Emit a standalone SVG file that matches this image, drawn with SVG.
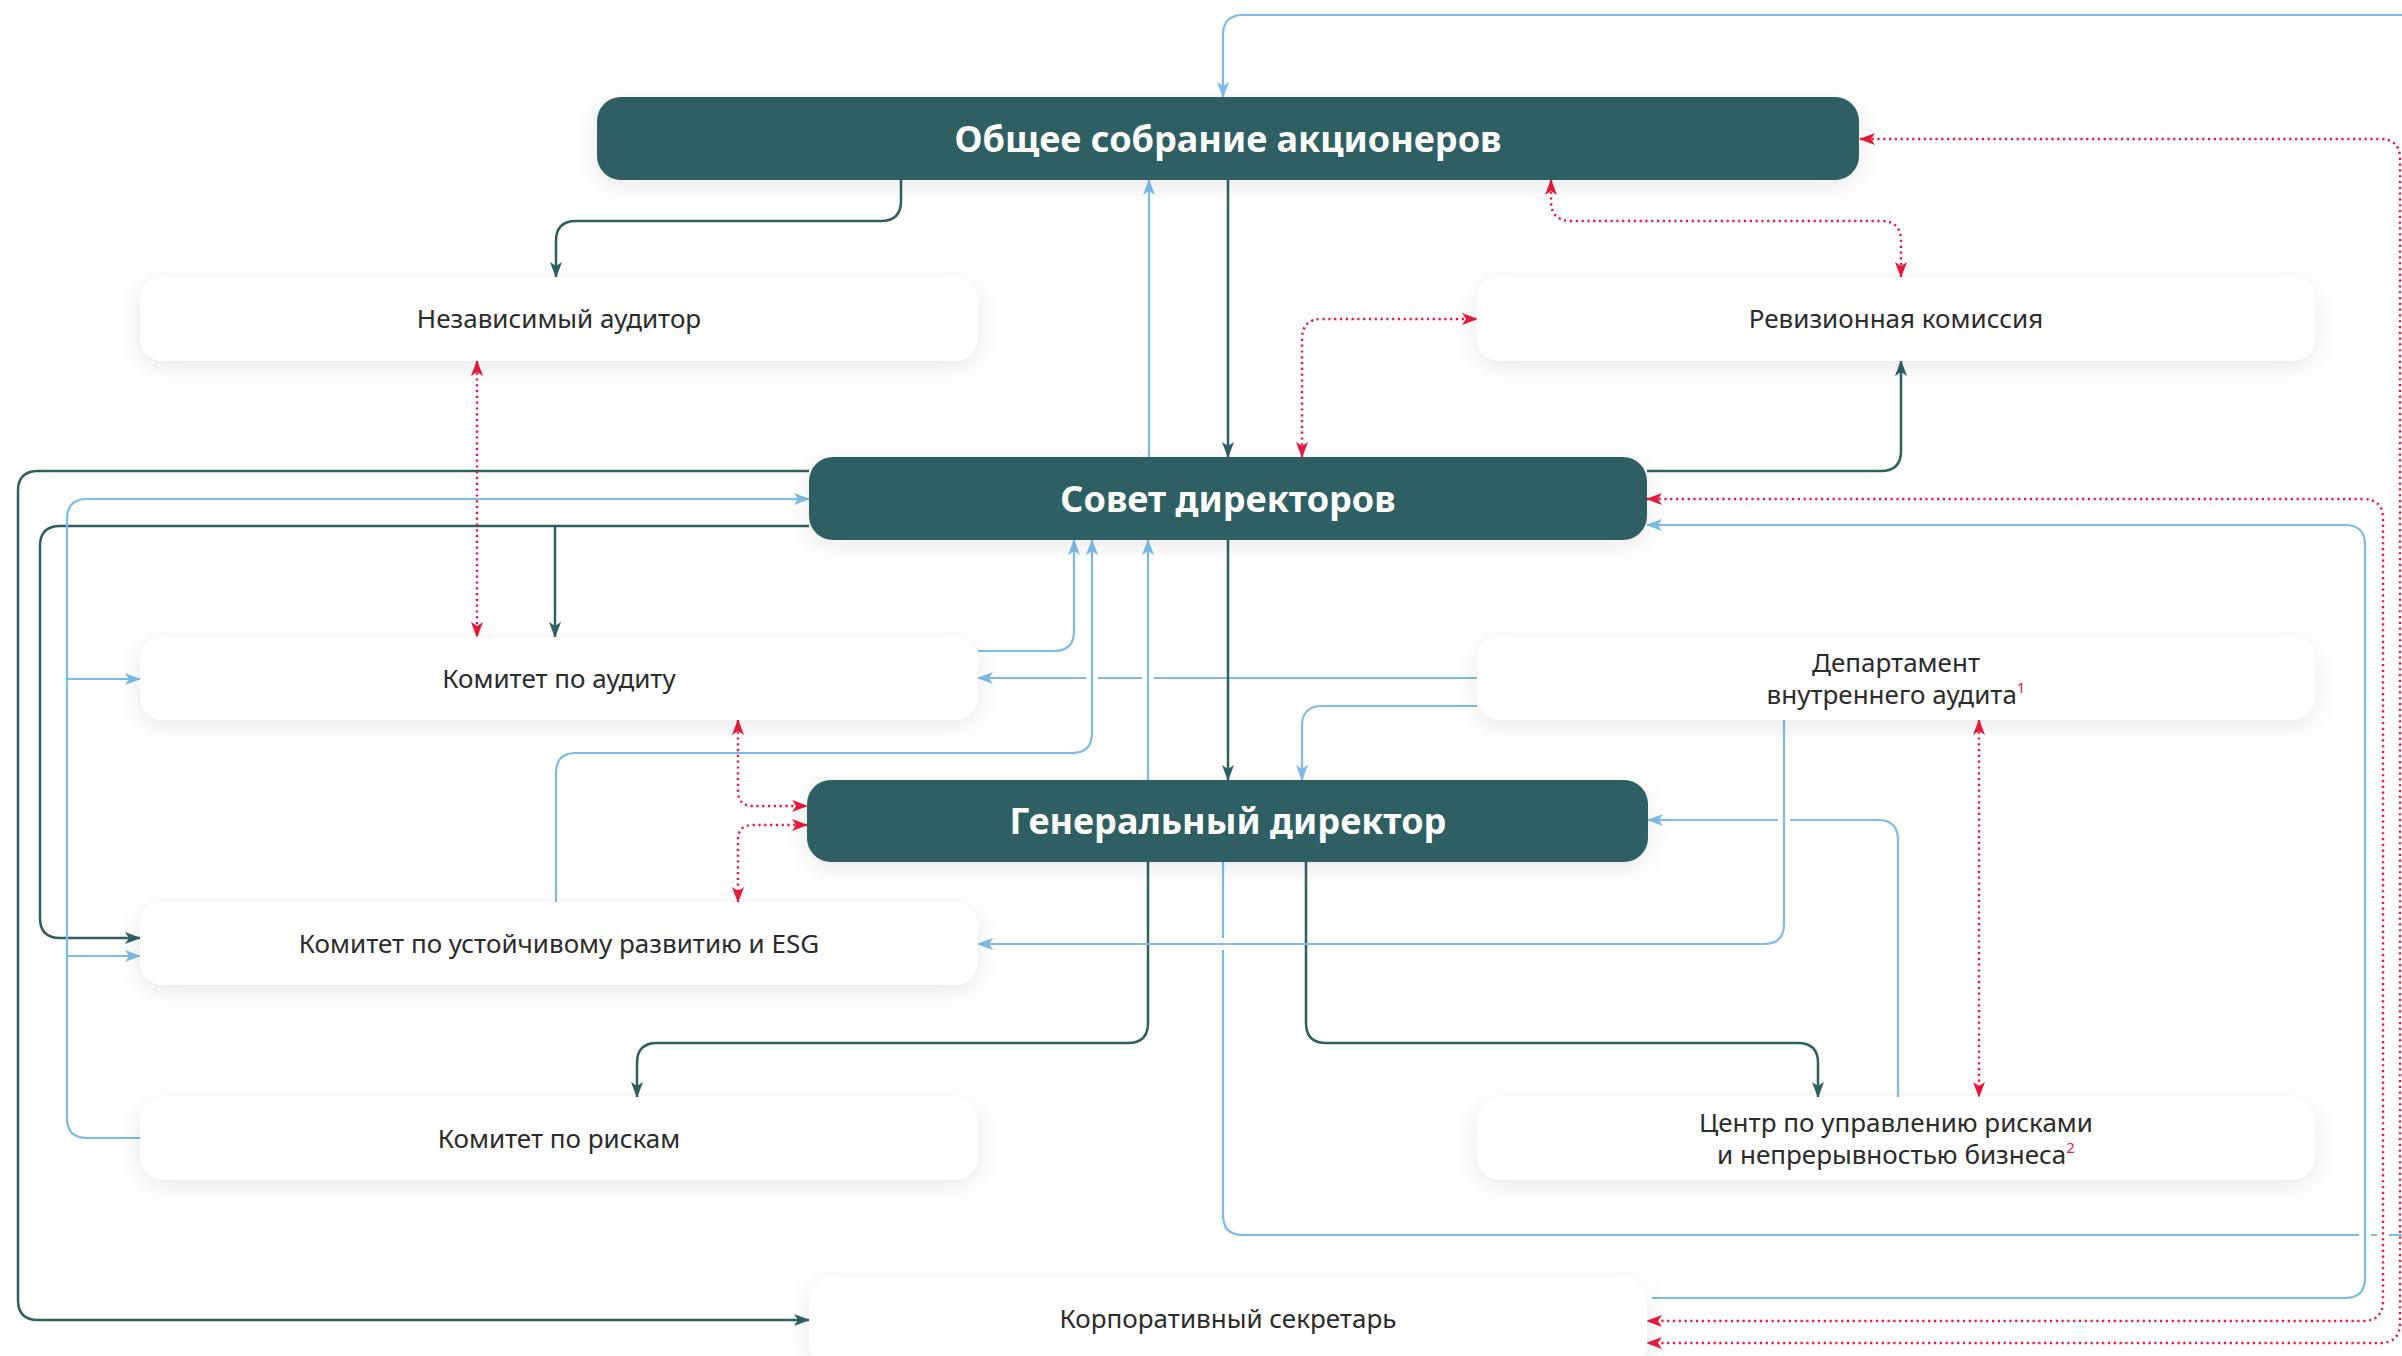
<svg xmlns="http://www.w3.org/2000/svg" width="2402" height="1356" viewBox="0 0 2402 1356">
<style>
.dk{fill:#2e6063}
.wt{fill:#ffffff}
.hd{font-family:"Noto Sans","Open Sans","Liberation Sans",sans-serif;font-weight:700;font-size:36px;fill:#ffffff;text-anchor:middle}
.tx{font-family:"Noto Sans","Open Sans","Liberation Sans",sans-serif;font-weight:400;font-size:26px;fill:#2b2b2b;text-anchor:middle}
.sup{font-size:15px;fill:#e8193c}
.cd{fill:none;stroke:#2e6063;stroke-width:2.5}
.cb{fill:none;stroke:#7dbbe8;stroke-width:2.2}
.cr{fill:none;stroke:#e8193c;stroke-width:2.4;stroke-dasharray:2.2 3.6}
.md{marker-end:url(#ad)}
.mb{marker-end:url(#ab)}
.mr{marker-start:url(#ar);marker-end:url(#ar)}
.gap{fill:#ffffff}
</style>
<defs>
<filter id="sh" x="-10%" y="-50%" width="120%" height="200%">
<feDropShadow dx="0" dy="6" stdDeviation="11" flood-color="#000000" flood-opacity="0.09"/>
</filter>
<marker id="ad" viewBox="0 0 16 12" refX="15" refY="6" markerWidth="16" markerHeight="12" markerUnits="userSpaceOnUse" orient="auto-start-reverse"><path d="M0,0 L16,6 L0,12 L4,6 Z" fill="#2e6063"/></marker>
<marker id="ab" viewBox="0 0 16 12" refX="15" refY="6" markerWidth="16" markerHeight="12" markerUnits="userSpaceOnUse" orient="auto-start-reverse"><path d="M0,0 L16,6 L0,12 L4,6 Z" fill="#7dbbe8"/></marker>
<marker id="ar" viewBox="0 0 16 12" refX="15" refY="6" markerWidth="16" markerHeight="12" markerUnits="userSpaceOnUse" orient="auto-start-reverse"><path d="M0,0 L16,6 L0,12 L4,6 Z" fill="#e8193c"/></marker>
</defs>
<rect x="0" y="0" width="2402" height="1356" fill="#ffffff"/>

<g id="connectors">
<!-- lines that get interrupted (drawn first) -->
<path class="cb" d="M1477,678 H978" marker-end="url(#ab)"/>
<path class="cb" d="M1898,1097 V840 Q1898,820 1878,820 H1648" marker-end="url(#ab)"/>
<path class="cb" d="M1223,862 V1215 Q1223,1235 1243,1235 H2430 V15 H1243 Q1223,15 1223,35 V97" marker-end="url(#ab)"/>
<rect class="gap" x="1086" y="673" width="12" height="10"/>
<rect class="gap" x="1142" y="673" width="12" height="10"/>
<rect class="gap" x="1778" y="815" width="12" height="10"/>
<rect class="gap" x="1218" y="938" width="10" height="12"/>
<rect class="gap" x="2359" y="1230" width="12" height="10"/>
<rect class="gap" x="2377" y="1230" width="12" height="10"/>

<!-- dark teal -->
<path class="cd md" d="M901,180 V201 Q901,221 881,221 H576 Q556,221 556,241 V277"/>
<path class="cd md" d="M1228,180 V457"/>
<path class="cd md" d="M1647,471 H1881 Q1901,471 1901,451 V361"/>
<path class="cd md" d="M809,471 H38 Q18,471 18,491 V1300 Q18,1320 38,1320 H809"/>
<path class="cd md" d="M809,526 H60 Q40,526 40,546 V918 Q40,938 60,938 H140"/>
<path class="cd md" d="M555,526 V637"/>
<path class="cd md" d="M1228,540 V780"/>
<path class="cd md" d="M1306,862 V1023 Q1306,1043 1326,1043 H1798 Q1818,1043 1818,1063 V1097"/>
<path class="cd md" d="M1148,862 V1023 Q1148,1043 1128,1043 H657 Q637,1043 637,1063 V1097"/>

<!-- blue -->
<path class="cb mb" d="M1149,457 V180"/>
<path class="cb mb" d="M140,1138 H87 Q67,1138 67,1118 V519 Q67,499 87,499 H809"/>
<path class="cb mb" d="M67,679 H140"/>
<path class="cb mb" d="M67,956 H140"/>
<path class="cb mb" d="M978,651 H1054 Q1074,651 1074,631 V540"/>
<path class="cb mb" d="M556,902 V773 Q556,753 576,753 H1072 Q1092,753 1092,733 V540"/>
<path class="cb mb" d="M1148,780 V540"/>
<path class="cb mb" d="M1477,706 H1322 Q1302,706 1302,726 V780"/>
<path class="cb mb" d="M1784,720 V924 Q1784,944 1764,944 H978"/>
<path class="cb mb" d="M1652,1298 H2345 Q2365,1298 2365,1278 V545 Q2365,525 2345,525 H1647"/>

<!-- red dotted -->
<path class="cr mr" d="M1551,180 V201 Q1551,221 1571,221 H1881 Q1901,221 1901,241 V277"/>
<path class="cr mr" d="M1302,457 V339 Q1302,319 1322,319 H1477"/>
<path class="cr mr" d="M477,361 V637"/>
<path class="cr mr" d="M738,720 V791 Q738,806 753,806 H807"/>
<path class="cr mr" d="M807,825 H753 Q738,825 738,840 V902"/>
<path class="cr mr" d="M1979,720 V1097"/>
<path class="cr mr" d="M1647,499 H2363 Q2383,499 2383,519 V1301 Q2383,1321 2363,1321 H1647"/>
<path class="cr mr" d="M1860,139 H2380 Q2400,139 2400,159 V1323 Q2400,1343 2380,1343 H1647"/>
</g>

<g id="n-osa"><rect class="dk" x="597" y="97" width="1262" height="83" rx="24" filter="url(#sh)"/><text class="hd" x="1228" y="151.5">Общее собрание акционеров</text></g>
<g id="n-auditor"><rect class="wt" x="140" y="277" width="838" height="84" rx="24" filter="url(#sh)"/><text class="tx" x="559" y="328">Независимый аудитор</text></g>
<g id="n-revkom"><rect class="wt" x="1477" y="277" width="838" height="84" rx="24" filter="url(#sh)"/><text class="tx" x="1896" y="328">Ревизионная комиссия</text></g>
<g id="n-sovet"><rect class="dk" x="809" y="457" width="838" height="83" rx="24" filter="url(#sh)"/><text class="hd" x="1228" y="511.5">Совет директоров</text></g>
<g id="n-kaudit"><rect class="wt" x="140" y="637" width="838" height="83" rx="24" filter="url(#sh)"/><text class="tx" x="559" y="688">Комитет по аудиту</text></g>
<g id="n-dvа"><rect class="wt" x="1477" y="637" width="838" height="83" rx="24" filter="url(#sh)"/><text class="tx" x="1896" y="672">Департамент</text><text class="tx" x="1896" y="704">внутреннего аудита<tspan class="sup" dy="-11">1</tspan></text></g>
<g id="n-gd"><rect class="dk" x="807" y="780" width="841" height="82" rx="24" filter="url(#sh)"/><text class="hd" x="1228" y="834">Генеральный директор</text></g>
<g id="n-esg"><rect class="wt" x="140" y="902" width="838" height="83" rx="24" filter="url(#sh)"/><text class="tx" x="559" y="953">Комитет по устойчивому развитию и ESG</text></g>
<g id="n-risk"><rect class="wt" x="140" y="1097" width="838" height="83" rx="24" filter="url(#sh)"/><text class="tx" x="559" y="1148">Комитет по рискам</text></g>
<g id="n-center"><rect class="wt" x="1477" y="1097" width="838" height="83" rx="24" filter="url(#sh)"/><text class="tx" x="1896" y="1132">Центр по управлению рисками</text><text class="tx" x="1896" y="1164">и непрерывностью бизнеса<tspan class="sup" dy="-11">2</tspan></text></g>
<g id="n-sekr"><rect class="wt" x="809" y="1277" width="838" height="90" rx="24" filter="url(#sh)"/><text class="tx" x="1228" y="1328">Корпоративный секретарь</text></g>
</svg>
